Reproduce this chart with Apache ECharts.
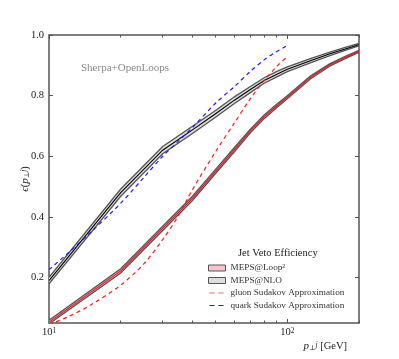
<!DOCTYPE html>
<html>
<head>
<meta charset="utf-8">
<script src="https://cdn.jsdelivr.net/npm/echarts@6/dist/echarts.min.js"></script>
<style>
  html, body { margin: 0; padding: 0; background: #fff; }
  #chart { width: 399px; height: 359px; }
</style>
</head>
<body>
<div id="chart"></div>
<script>
// jet veto efficiency vs pT cut (GeV)
var ptBand = [10, 20, 30, 40, 50, 60, 70, 80, 90, 100, 125, 150, 175, 200];
var nloMid = [0.19, 0.48, 0.62, 0.687, 0.74, 0.785, 0.82, 0.85, 0.87, 0.887, 0.915, 0.937, 0.954, 0.968];
var nloErr = [0.011, 0.012, 0.012, 0.012, 0.011, 0.011, 0.010, 0.009, 0.009, 0.008, 0.007, 0.006, 0.005, 0.004];
var loopMid = [0.053, 0.222, 0.362, 0.461, 0.55, 0.622, 0.683, 0.73, 0.765, 0.795, 0.86, 0.90, 0.926, 0.946];
var loopErr = [0.006, 0.007, 0.007, 0.007, 0.007, 0.007, 0.006, 0.006, 0.006, 0.005, 0.005, 0.004, 0.004, 0.003];

var ptSud = [10, 12, 15, 20, 25, 30, 35, 40, 50, 60, 70, 80, 90, 100];
var gluonSud = [0.045, 0.07, 0.11, 0.175, 0.245, 0.325, 0.405, 0.49, 0.615, 0.71, 0.79, 0.85, 0.895, 0.928];
var quarkSud = [0.226, 0.28, 0.35, 0.445, 0.53, 0.60, 0.65, 0.695, 0.775, 0.83, 0.88, 0.918, 0.945, 0.965];

var yTicks = [0.2, 0.4, 0.6, 0.8, 1.0];
var xMajor = [10, 100];
var xMinor = [20, 30, 40, 50, 60, 70, 80, 90, 200];

var serif = '"Liberation Serif", "DejaVu Serif", serif';
var frame = '#555';
// two short dashes, padded to a 17x6 box so the legend does not stretch them
var dashIcon = 'path://M0,0L0.01,0L0.01,0.01Z M16.99,6L17,6L17,5.99Z M1,2.4H6V3.6H1Z M10,2.4H15V3.6H10Z';

function pairs(xs, ys) {
  return xs.map(function (x, i) { return [x, ys[i]]; });
}

// error band as one polygon with dark edges and a centre line
function band(name, mid, err, fill, lineColor) {
  return {
    name: name, type: 'custom', data: pairs(ptBand, mid), z: 2,
    encode: { x: 0, y: 1 },
    itemStyle: { color: fill },
    renderItem: function (params, api) {
      if (params.dataIndex !== 0) return;
      var hi = ptBand.map(function (x, i) { return api.coord([x, mid[i] + err[i]]); });
      var lo = ptBand.map(function (x, i) { return api.coord([x, mid[i] - err[i]]); });
      var c = ptBand.map(function (x, i) { return api.coord([x, mid[i]]); });
      var cs = params.coordSys;
      return {
        type: 'group',
        clipPath: { type: 'rect', shape: { x: cs.x, y: cs.y, width: cs.width, height: cs.height } },
        children: [
          { type: 'polygon', shape: { points: hi.concat(lo.slice().reverse()) }, style: { fill: fill } },
          { type: 'polyline', shape: { points: hi }, style: { stroke: frame, lineWidth: 1.3, fill: null } },
          { type: 'polyline', shape: { points: lo }, style: { stroke: frame, lineWidth: 1.3, fill: null } },
          { type: 'polyline', shape: { points: c }, style: { stroke: lineColor, lineWidth: 1.1, fill: null } }
        ]
      };
    }
  };
}

var chart = echarts.init(document.getElementById('chart'));

var tickLabel = { fontFamily: serif, fontSize: 10.5, color: '#222' };
var labelRich = {
  it: { fontFamily: serif, fontStyle: 'italic', fontSize: 11, color: '#222', verticalAlign: 'bottom' },
  sub: { fontFamily: serif, fontSize: 7, color: '#222', verticalAlign: 'bottom' },
  sup: { fontFamily: serif, fontStyle: 'italic', fontSize: 7.5, color: '#222', verticalAlign: 'top' },
  n: { fontFamily: serif, fontSize: 10.5, color: '#222', verticalAlign: 'bottom' }
};

chart.setOption({
  animation: false,
  grid: { left: 49, top: 35, width: 310, height: 288 },
  xAxis: [
    {
      type: 'log', logBase: 10, min: 10, max: 200, position: 'bottom',
      axisLine: { lineStyle: { color: frame, width: 1.5 } },
      axisTick: { inside: true, length: 4, lineStyle: { color: frame }, customValues: xMajor },
      axisLabel: {
        customValues: xMajor, margin: 4,
        formatter: function (v) { return '{b|10}{s|' + Math.round(Math.log10(v)) + '}'; },
        rich: {
          b: { fontFamily: serif, fontSize: 10.5, color: '#222', verticalAlign: 'bottom' },
          s: { fontFamily: serif, fontSize: 7.5, color: '#222', verticalAlign: 'top', padding: [0, 0, 3, 0] }
        }
      },
      splitLine: { show: false },
      name: '{it|p}{sub|⊥}{sup|j}{n| [GeV]}', nameLocation: 'end', nameGap: -12,
      nameTextStyle: { align: 'right', verticalAlign: 'top', padding: [18, 0, 0, 0], rich: labelRich }
    },
    {
      type: 'log', logBase: 10, min: 10, max: 200, position: 'bottom',
      axisLine: { show: false },
      axisTick: { inside: true, length: 2.5, lineStyle: { color: frame }, customValues: xMinor },
      axisLabel: { show: false }, splitLine: { show: false }
    },
    {
      type: 'log', logBase: 10, min: 10, max: 200, position: 'top',
      axisLine: { lineStyle: { color: frame, width: 1.5 } },
      axisTick: { inside: true, length: 4, lineStyle: { color: frame }, customValues: xMajor },
      axisLabel: { show: false }, splitLine: { show: false }
    },
    {
      type: 'log', logBase: 10, min: 10, max: 200, position: 'top',
      axisLine: { show: false },
      axisTick: { inside: true, length: 2.5, lineStyle: { color: frame }, customValues: xMinor },
      axisLabel: { show: false }, splitLine: { show: false }
    }
  ],
  yAxis: [
    {
      type: 'value', min: 0.05, max: 1.0, position: 'left',
      axisLine: { show: true, lineStyle: { color: frame, width: 1.5 } },
      axisTick: { show: true, inside: true, length: 4, lineStyle: { color: frame }, customValues: yTicks },
      axisLabel: Object.assign({ customValues: yTicks, margin: 5, formatter: function (v) { return v.toFixed(1); } }, tickLabel),
      splitLine: { show: false },
      name: '{it|ϵ}{n|(}{it|p}{sub|⊥}{sup|j}{n|)}', nameLocation: 'middle', nameGap: 18, nameRotate: 90,
      nameMoveOverlap: false,
      nameTextStyle: { rich: labelRich }
    },
    {
      type: 'value', min: 0.05, max: 1.0, position: 'right',
      axisLine: { show: true, lineStyle: { color: frame, width: 1.5 } },
      axisTick: { show: true, inside: true, length: 4, lineStyle: { color: frame }, customValues: yTicks },
      axisLabel: { show: false }, splitLine: { show: false }
    }
  ],
  legend: {
    orient: 'vertical', left: 208, top: 263, padding: 0,
    itemWidth: 17, itemHeight: 6, itemGap: 2.5,
    selectedMode: false,
    textStyle: { fontFamily: serif, fontSize: 9.2, color: '#333', lineHeight: 10 },
    data: [
      { name: 'MEPS@Loop²', icon: 'rect', itemStyle: { color: '#f6c5cc', borderColor: '#555', borderWidth: 1 } },
      { name: 'MEPS@NLO', icon: 'rect', itemStyle: { color: '#dedede', borderColor: '#555', borderWidth: 1 } },
      { name: 'gluon Sudakov Approximation', icon: dashIcon, itemStyle: { color: '#ff6060' } },
      { name: 'quark Sudakov Approximation', icon: dashIcon, itemStyle: { color: '#1a1aff' } }
    ]
  },
  graphic: [
    {
      type: 'text', left: 81, top: 63,
      style: { text: 'Sherpa+OpenLoops', fontFamily: serif, fontSize: 11, fill: '#8a8a8a' }
    },
    {
      type: 'text', left: 238, top: 248,
      style: { text: 'Jet Veto Efficiency', fontFamily: serif, fontSize: 10.5, fill: '#222' }
    }
  ],
  series: [
    band('MEPS@NLO', nloMid, nloErr, '#dcdcdc', '#000'),
    band('MEPS@Loop²', loopMid, loopErr, '#f4b3bd', '#e8141c'),
    {
      name: 'gluon Sudakov Approximation', type: 'line', data: pairs(ptSud, gluonSud),
      symbol: 'none', smooth: 0.3, z: 4,
      lineStyle: { color: '#ff1a1a', width: 1.2, type: [4, 3.5] }, itemStyle: { color: '#ff1a1a' }
    },
    {
      name: 'quark Sudakov Approximation', type: 'line', data: pairs(ptSud, quarkSud),
      symbol: 'none', smooth: 0.3, z: 4,
      lineStyle: { color: '#1a1aff', width: 1.2, type: [4, 3.5] }, itemStyle: { color: '#1a1aff' }
    }
  ]
});
</script>
</body>
</html>
